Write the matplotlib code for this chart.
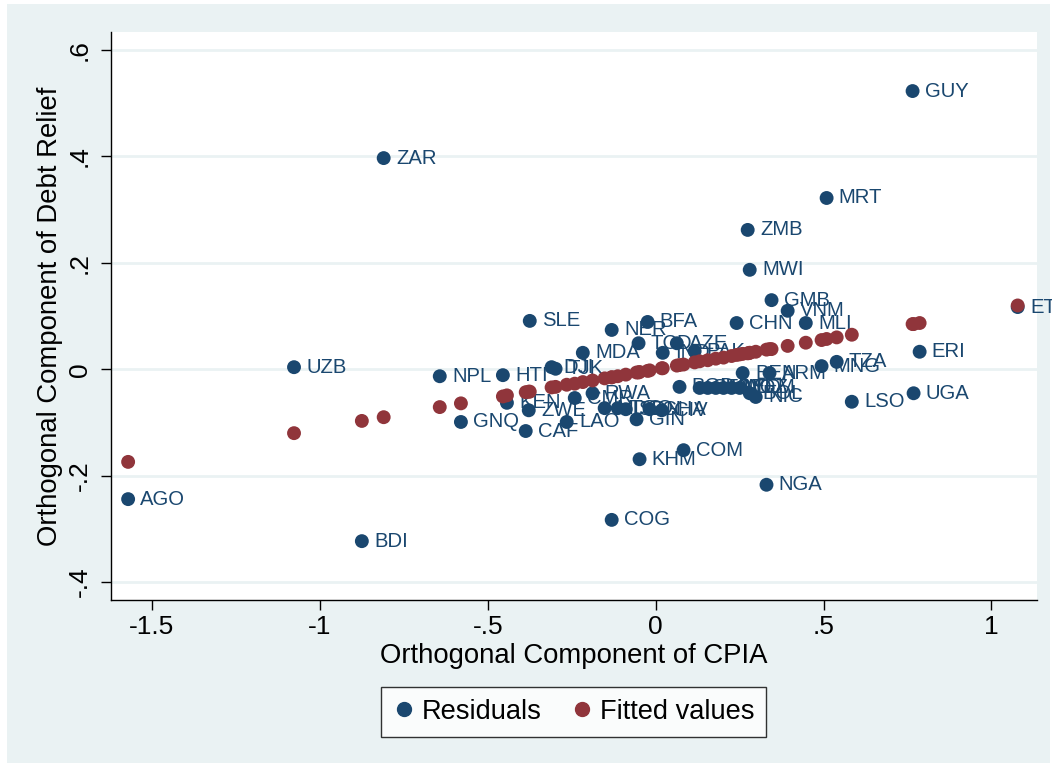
import matplotlib
matplotlib.use("Agg")
import matplotlib.pyplot as plt
from matplotlib.patches import Rectangle
from matplotlib.lines import Line2D
from matplotlib.transforms import Bbox

plt.rcParams['font.family'] = ['Liberation Sans', 'DejaVu Sans']

countries = ["AGO", "BDI", "UZB", "ZAR", "NPL", "GNQ", "HTI", "KEN", "CAF", "ZWE",
             "SLE", "DJI", "TJK", "LAO", "CMR", "MDA", "RWA", "MDG", "NER", "COG",
             "TGO", "SDN", "GIN", "TCD", "KHM", "BFA", "GHA", "CIV", "IND", "AZE",
             "BGD", "COM", "PAK", "SEN", "LKA", "HND", "GEO", "MOZ", "YEM", "BEN",
             "BOL", "NIC", "ZMB", "MWI", "CHN", "ARM", "GMB", "VNM", "MLI", "MNG",
             "NGA", "MRT", "TZA", "LSO", "GUY", "UGA", "ERI", "ETH"]

cpia = [-1.571, -0.875, -1.077, -0.810, -0.643, -0.580, -0.455, -0.443, -0.387, -0.378,
        -0.375, -0.310, -0.298, -0.265, -0.241, -0.217, -0.188, -0.152, -0.131, -0.131,
        -0.113, -0.089, -0.057, -0.051, -0.048, -0.024, -0.018, 0.018, 0.021, 0.063,
        0.071, 0.083, 0.116, 0.131, 0.155, 0.179, 0.202, 0.226, 0.250, 0.259,
        0.280, 0.298, 0.274, 0.280, 0.241, 0.339, 0.345, 0.393, 0.447, 0.494,
        0.330, 0.509, 0.539, 0.584, 0.765, 0.768, 0.786, 1.078]

residuals = [-0.244, -0.323, 0.004, 0.397, -0.013, -0.099, -0.011, -0.063, -0.116, -0.077,
             0.091, 0.004, 0.001, -0.099, -0.054, 0.031, -0.045, -0.073, 0.074, -0.283,
             -0.073, -0.075, -0.094, 0.049, -0.169, 0.089, -0.075, -0.077, 0.031, 0.049,
             -0.033, -0.152, 0.034, -0.035, -0.035, -0.035, -0.035, -0.035, -0.035, -0.007,
             -0.045, -0.052, 0.262, 0.187, 0.087, -0.007, 0.130, 0.110, 0.087, 0.006,
             -0.217, 0.322, 0.014, -0.061, 0.523, -0.045, 0.033, 0.117]

fitted = [-0.174, -0.097, -0.120, -0.090, -0.071, -0.064, -0.051, -0.049, -0.043, -0.042,
          -0.042, -0.034, -0.033, -0.029, -0.027, -0.024, -0.021, -0.017, -0.015, -0.015,
          -0.013, -0.010, -0.006, -0.006, -0.005, -0.003, -0.002, 0.002, 0.002, 0.007,
          0.008, 0.009, 0.013, 0.015, 0.017, 0.020, 0.022, 0.025, 0.028, 0.029,
          0.031, 0.033, 0.030, 0.031, 0.027, 0.038, 0.038, 0.044, 0.050, 0.055,
          0.037, 0.057, 0.060, 0.065, 0.085, 0.085, 0.087, 0.120]

xticks = [-1.5, -1, -0.5, 0, 0.5, 1]
xticklabels = ["-1.5", "-1", "-.5", "0", ".5", "1"]
yticks = [-0.4, -0.2, 0, 0.2, 0.4, 0.6]
yticklabels = ["-.4", "-.2", "0", ".2", ".4", ".6"]

NAVY = '#1A476F'
MAROON = '#90353B'
BG = '#EAF2F3'

W, H = 1057, 772
fig = plt.figure(figsize=(W / 100, H / 100), dpi=100)
fig.patch.set_facecolor('white')
fig.add_artist(Rectangle((7 / W, 1 - 763 / H), (1050 - 7) / W, (763 - 4) / H,
                         transform=fig.transFigure, facecolor=BG, edgecolor='none', zorder=0))

ax = fig.add_axes([111 / W, 1 - 600 / H, (1037 - 111) / W, (600 - 32) / H])
ax.set_facecolor('white')
ax.set_xlim(-1.622, 1.1355)
ax.set_ylim(-0.4336, 0.634)

for yt in yticks:
    ax.axhline(yt, color=BG, lw=2.0, zorder=0.5)

ax.scatter(cpia, residuals, s=100, color=NAVY, edgecolors='none', zorder=2)
clipbox = Bbox.from_extents(0, 0, 1052, H)
for c, xv, yv in zip(countries, cpia, residuals):
    t = ax.annotate(c, (xv, yv), xytext=(8.8, 0), textcoords='offset points',
                    va='center', ha='left', fontsize=14.6, color=NAVY, zorder=3,
                    annotation_clip=False)
    t.set_clip_box(clipbox)
    t.set_clip_on(True)
ax.scatter(cpia, fitted, s=100, color=MAROON, edgecolors='none', zorder=4)

for s in ['top', 'right']:
    ax.spines[s].set_visible(False)
for s in ['left', 'bottom']:
    ax.spines[s].set_color('black')
    ax.spines[s].set_linewidth(1.0)

ax.set_xticks(xticks)
ax.set_xticklabels(xticklabels, fontsize=19)
ax.set_yticks(yticks)
ax.set_yticklabels(yticklabels, fontsize=19, rotation=90, va='center')
ax.tick_params(axis='both', direction='out', length=7.5, width=1.0, color='black')
ax.tick_params(axis='x', pad=3)
ax.tick_params(axis='y', pad=6.5)

ax.set_xlabel("Orthogonal Component of CPIA", fontsize=19.8)
ax.xaxis.set_label_coords(0.5, (600 - 643) / (600 - 32))
ax.set_ylabel("Orthogonal Component of Debt Relief", fontsize=19.8)
ax.yaxis.set_label_coords((63 - 111) / (1037 - 111), 0.5)

handles = [Line2D([], [], marker='o', ls='none', color=NAVY, markersize=10),
           Line2D([], [], marker='o', ls='none', color=MAROON, markersize=10)]
leg = fig.legend(handles, ["Residuals", "Fitted values"], loc='center',
                 bbox_to_anchor=(573.5 / W, 1 - 712 / H), ncol=2, fontsize=19.6,
                 frameon=True, fancybox=False, edgecolor='black',
                 handletextpad=0.25, columnspacing=1.1, borderpad=0.45,
                 handlelength=0.8, borderaxespad=0)
leg.get_frame().set_linewidth(1.0)
leg.get_frame().set_facecolor('white')

fig.savefig("out.png", dpi=100, facecolor=fig.get_facecolor())
